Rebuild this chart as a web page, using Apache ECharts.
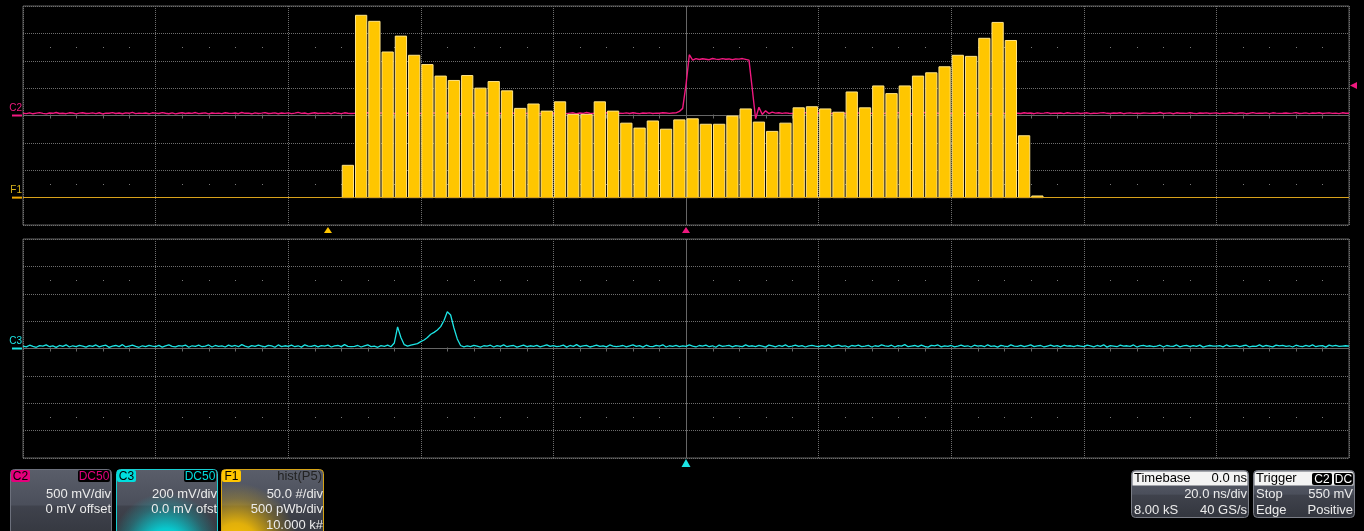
<!DOCTYPE html>
<html>
<head>
<meta charset="utf-8">
<title>C2 / C3 / F1</title>
<script src="https://cdn.jsdelivr.net/npm/echarts@6/dist/echarts.min.js"></script>
<style>
  html, body { margin: 0; padding: 0; background: #000; }
  #scope { width: 1364px; height: 531px; }
</style>
</head>
<body>
<div id="scope"></div>
<script>
// ---- acquisition settings ----
const TIME_NS_PER_DIV = 20;
const TIME_START_NS = -100;      // first sample of the stored traces
const TIME_STEP_NS = 0.5;        // spacing of the stored samples
const TRIGGER_TIME_NS = 0;
const TRIGGER_LEVEL_V = 0.55;
const C2_V_PER_DIV = 0.5;
const C3_V_PER_DIV = 0.2;
const F1_COUNT_PER_DIV = 50;
const F1_PWB_PER_DIV = 500;
const F1_ZERO_DIV = 2.3;         // horizontal position of 0 pWb, in divisions from the left edge
const F1_BASE_DIV = 3;           // histogram baseline, divisions below centre

// ---- C2 trace, mV, one value per 0.5 ns from -100 ns to +100 ns ----
const C2_MV = [
  42,35,48,31,44,52,38,29,46,40,55,36,41,33,49,45,30,43,51,37,
  39,47,34,50,28,44,41,53,36,45,32,48,40,57,35,43,38,46,31,49,
  44,36,52,40,33,47,29,42,50,37,45,39,54,34,41,48,30,46,38,43,
  35,51,42,38,46,33,55,40,44,31,49,37,43,52,36,41,47,32,45,39,
  48,34,43,56,39,45,30,41,50,36,44,38,47,33,53,40,35,49,42,37,
  41,46,32,44,51,37,43,29,48,39,45,54,36,42,34,50,40,46,31,44,
  38,49,43,35,47,41,52,33,45,40,36,48,30,44,55,39,42,37,50,34,
  45,33,50,41,38,46,35,53,42,30,47,43,39,51,36,44,32,48,41,46,
  37,52,40,46,34,43,49,31,45,38,54,41,36,47,42,33,50,39,44,35,
  43,39,47,36,51,42,34,45,40,48,37,44,41,50,46,39,45,48,75,130,
  560,1110,1010,1040,1022,1036,1028,1019,1041,1030,1024,1038,1027,1033,1018,1035,1029,1040,1026,1012,
  480,-60,150,20,85,35,62,44,50,38,47,41,36,49,43,39,52,34,45,40,
  46,37,43,51,33,48,40,44,36,53,41,39,47,32,45,50,38,42,46,35,
  40,48,35,44,52,37,41,46,31,49,43,38,54,40,36,47,42,33,45,50,
  39,44,48,34,42,51,37,45,40,36,49,43,30,47,41,53,38,44,35,46,
  42,36,50,41,45,33,48,39,44,52,37,43,40,46,34,51,42,38,47,36,
  44,49,35,42,38,47,53,40,36,45,41,50,33,44,48,39,42,37,46,43,
  38,45,41,54,36,43,47,32,49,40,44,38,51,42,35,46,40,48,37,44,
  47,34,43,39,50,42,36,45,48,33,41,52,38,44,40,47,35,49,43,39,
  41,46,38,44,53,37,42,48,35,45,40,50,36,43,47,39,44,34,49,42,
  40
];

// ---- C3 trace, mV, same time base ----
const C3_MV = [
  18,12,24,15,9,21,17,26,13,19,8,22,16,27,11,20,14,23,18,10,
  21,15,26,12,19,24,8,17,22,14,28,11,18,25,16,9,20,13,23,17,
  14,23,10,19,27,16,12,21,18,25,9,20,15,24,13,18,26,11,22,16,
  19,11,25,16,22,13,28,17,10,21,15,24,18,12,23,19,9,26,14,20,
  16,24,13,20,10,27,18,15,23,12,21,17,25,11,19,22,14,28,16,13,
  15,22,11,19,26,14,18,9,21,16,24,13,40,158,80,28,18,24,30,36,
  50,62,80,104,118,135,160,205,268,245,150,70,22,12,19,14,23,17,10,20,
  18,24,11,21,15,26,13,19,22,10,17,25,14,20,16,23,12,19,27,15,
  21,13,18,25,10,22,16,28,14,19,23,11,17,24,15,20,12,26,18,14,
  17,22,12,19,26,15,21,10,24,16,13,23,18,27,11,20,16,22,14,19,
  15,26,18,11,22,17,24,13,20,9,25,16,19,23,12,21,18,14,27,16,
  20,14,23,17,10,25,19,12,22,16,26,13,18,24,15,21,11,19,23,17,
  13,21,16,27,12,19,24,15,20,10,22,18,25,14,17,23,11,20,16,26,
  19,15,24,11,21,17,28,13,18,22,14,25,16,10,23,19,26,12,20,15,
  22,12,18,25,15,20,11,24,17,21,13,27,16,19,10,23,18,14,26,17,
  16,23,13,20,26,14,19,22,11,18,25,15,21,12,24,17,20,13,22,18,
  14,25,19,12,22,16,27,10,21,18,13,24,17,20,15,26,11,19,23,16,
  20,13,17,24,11,22,18,15,26,12,19,23,14,21,16,25,10,18,22,17,
  17,21,12,26,15,19,23,13,20,24,11,18,16,27,14,22,17,12,25,19,
  23,15,20,11,24,18,14,22,16,26,13,19,21,10,25,17,23,15,18,20,
  17
];

// ---- F1 = hist(P5): counts per 50 pWb bin, first bin starts at 50 pWb ----
const HIST_FIRST_PWB = 50;
const HIST_BIN_PWB = 50;
const HIST_COUNTS = [
  59,333,322,266,295,260,243,222,214,223,
  200,212,195,163,171,158,175,152,152,175,
  158,136,127,140,125,142,144,134,134,149,
  162,138,121,136,164,166,162,156,193,164,
  204,190,204,222,228,239,260,258,291,320,
  287,113,3
];

// ---- descriptor boxes ----
const C2_LINES = ['500 mV/div', '0 mV offset'];
const C3_LINES = ['200 mV/div', '0.0 mV ofst'];
const F1_LINES = ['50.0 #/div', '500 pWb/div', '10.000 k#'];
const TIMEBASE_ROWS = [['Timebase', '0.0 ns'], ['', '20.0 ns/div'], ['8.00 kS', '40 GS/s']];
const TRIGGER_ROWS = [['Trigger', ''], ['Stop', '550 mV'], ['Edge', 'Positive']];

// ---- colours ----
const PINK = '#F0187F', PINK_TAG = '#E4007C';
const CYAN = '#1CE4E4', CYAN_TAG = '#00DEDE';
const GOLD = '#FFC600', GOLD_LINE = '#D9A21B';
const GRID_GREY = '#666666';
const FONT = '"Liberation Sans", Arial, sans-serif';

// ---- derived axis ranges ----
const T_MIN = -5 * TIME_NS_PER_DIV, T_MAX = 5 * TIME_NS_PER_DIV;
const C2_MIN = -4 * C2_V_PER_DIV, C2_MAX = 4 * C2_V_PER_DIV;
const C3_MIN = -4 * C3_V_PER_DIV, C3_MAX = 4 * C3_V_PER_DIV;
const F1_Y_MIN = -(4 - F1_BASE_DIV) * F1_COUNT_PER_DIV;
const F1_Y_MAX = (4 + F1_BASE_DIV) * F1_COUNT_PER_DIV;
const F1_X_MIN = -F1_ZERO_DIV * F1_PWB_PER_DIV;
const F1_X_MAX = (10 - F1_ZERO_DIV) * F1_PWB_PER_DIV;

const toTrace = arr => arr.map((mv, i) => [TIME_START_NS + i * TIME_STEP_NS, mv / 1000]);
const histData = HIST_COUNTS.map((c, i) => [HIST_FIRST_PWB + i * HIST_BIN_PWB, HIST_FIRST_PWB + (i + 1) * HIST_BIN_PWB, c]);

const dotted = { show: true, lineStyle: { color: '#6e6e6e', type: [1, 1], width: 1 } };
function timeAxis(gridIndex) {
  return {
    type: 'value', gridIndex, min: T_MIN, max: T_MAX, interval: TIME_NS_PER_DIV,
    axisLine: { show: false }, axisTick: { show: false }, axisLabel: { show: false },
    splitLine: dotted
  };
}
function voltAxis(gridIndex, min, max, step) {
  return {
    type: 'value', gridIndex, min, max, interval: step,
    axisLine: { show: false }, axisTick: { show: false }, axisLabel: { show: false },
    splitLine: dotted
  };
}
const hiddenAxis = (gridIndex, min, max) => ({
  type: 'value', gridIndex, min, max, show: false, splitLine: { show: false }
});

// centre cross with minor ticks on the horizontal axis, plus the dot rows at +/-2.5 div
function graticule(xIdx, yIdx) {
  return {
    type: 'custom', xAxisIndex: xIdx, yAxisIndex: yIdx, silent: true, z: 1, clip: false,
    data: [[0, 0]],
    renderItem(params) {
      const cs = params.coordSys;
      const cx = Math.floor(cs.x + cs.width / 2) + 0.5;
      const cy = Math.floor(cs.y + cs.height / 2) + 0.5;
      const st = { stroke: GRID_GREY, lineWidth: 1 };
      const kids = [
        { type: 'line', shape: { x1: cs.x, y1: cy, x2: cs.x + cs.width, y2: cy }, style: st },
        { type: 'line', shape: { x1: cx, y1: cs.y, x2: cx, y2: cs.y + cs.height }, style: st }
      ];
      const rowUp = Math.round(cs.y + cs.height * 1.5 / 8);
      const rowDn = Math.round(cs.y + cs.height * 6.5 / 8);
      for (let i = 1; i < 50; i++) {
        if (i % 5 === 0) continue;
        const x = Math.round(cs.x + i * cs.width / 50) + 0.5;
        kids.push({ type: 'line', shape: { x1: x, y1: cy - 1, x2: x, y2: cy + 3 }, style: st });
        kids.push({ type: 'rect', shape: { x: x - 0.5, y: rowUp, width: 1, height: 1 }, style: { fill: '#7a7a7a' } });
        kids.push({ type: 'rect', shape: { x: x - 0.5, y: rowDn, width: 1, height: 1 }, style: { fill: '#7a7a7a' } });
      }
      return { type: 'group', children: kids };
    }
  };
}

// channel tag at the left edge (text + ground marker)
function channelTag(p, text, color, barColor) {
  return [
    { type: 'text', x: p[0] - 1, y: p[1] - 7,
      style: { text, fill: color, font: '10px ' + FONT, align: 'right', verticalAlign: 'middle' } },
    { type: 'rect', shape: { x: p[0] - 11, y: p[1] - 1, width: 10, height: 2 }, style: { fill: barColor } }
  ];
}
const upTriangle = (x, yTop, h, half, fill) => ({
  type: 'polygon', shape: { points: [[x, yTop], [x - half, yTop + h], [x + half, yTop + h]] }, style: { fill }
});

const c2Markers = {
  type: 'custom', xAxisIndex: 0, yAxisIndex: 0, silent: true, clip: false, z: 6,
  data: [[0, 0]],
  renderItem(params, api) {
    const zero = api.coord([T_MIN, 0]);
    const trig = api.coord([TRIGGER_TIME_NS, C2_MIN]);
    const lvl = api.coord([T_MAX, TRIGGER_LEVEL_V]);
    return { type: 'group', children: [
      ...channelTag(zero, 'C2', PINK, PINK),
      upTriangle(trig[0], trig[1] + 2, 6, 4, PINK),
      { type: 'polygon', shape: { points: [[lvl[0] + 1, lvl[1]], [lvl[0] + 8, lvl[1] - 3.5], [lvl[0] + 8, lvl[1] + 3.5]] }, style: { fill: PINK } }
    ] };
  }
};
const f1Markers = {
  type: 'custom', xAxisIndex: 2, yAxisIndex: 1, silent: true, clip: false, z: 6,
  data: [[0, 0]],
  renderItem(params, api) {
    const zero = api.coord([F1_X_MIN, 0]);
    const pos = api.coord([0, F1_Y_MIN]);
    return { type: 'group', children: [
      ...channelTag(zero, 'F1', '#D7B21C', '#F0A800'),
      upTriangle(pos[0], pos[1] + 2, 6, 4, GOLD)
    ] };
  }
};
const c3Markers = {
  type: 'custom', xAxisIndex: 1, yAxisIndex: 2, silent: true, clip: false, z: 6,
  data: [[0, 0]],
  renderItem(params, api) {
    const zero = api.coord([T_MIN, 0]);
    const trig = api.coord([TRIGGER_TIME_NS, C3_MIN]);
    return { type: 'group', children: [
      ...channelTag(zero, 'C3', CYAN, CYAN),
      upTriangle(trig[0], trig[1] + 1, 8, 4.5, CYAN)
    ] };
  }
};

const histSeries = {
  type: 'custom', name: 'F1', xAxisIndex: 2, yAxisIndex: 1, z: 4,
  data: histData,
  encode: { x: [0, 1], y: 2 },
  renderItem(params, api) {
    const a = api.coord([api.value(0), api.value(2)]);
    const b = api.coord([api.value(1), 0]);
    return {
      type: 'rect',
      shape: { x: a[0] + 1, y: a[1], width: b[0] - a[0] - 2, height: b[1] - a[1] },
      style: { fill: GOLD, stroke: '#FFE486', lineWidth: 1 }
    };
  },
  markLine: {
    silent: true, symbol: 'none', label: { show: false },
    lineStyle: { color: GOLD_LINE, width: 1, type: 'solid' },
    data: [{ yAxis: 0 }]
  }
};

// ---- descriptor boxes along the bottom ----
const boxFill = {
  type: 'linear', x: 0, y: 0, x2: 0, y2: 1,
  colorStops: [
    { offset: 0, color: '#5a5e6a' }, { offset: 0.5, color: '#4b4f5b' },
    { offset: 0.53, color: '#3f424c' }, { offset: 1, color: '#33363e' }
  ]
};
const txt = (x, y, text, align, fill, size, weight) => ({
  type: 'text', x, y, z: 20,
  style: { text, fill: fill || '#ececec', font: (weight || 'normal') + ' ' + (size || 13) + 'px ' + FONT, align: align || 'right', verticalAlign: 'middle' }
});
const tag = (x, y, w, text, bg, fg) => [
  { type: 'rect', z: 19, shape: { x, y, width: w, height: 12, r: 2 }, style: { fill: bg } },
  txt(x + w / 2, y + 6.5, text, 'center', fg, 12)
];
function glow(cx, cy, r, rgb) {
  return {
    type: 'radial', x: cx, y: cy, r, global: true,
    colorStops: [
      { offset: 0, color: 'rgba(' + rgb + ',1)' }, { offset: 0.35, color: 'rgba(' + rgb + ',0.85)' },
      { offset: 0.75, color: 'rgba(' + rgb + ',0.25)' }, { offset: 1, color: 'rgba(' + rgb + ',0)' }
    ]
  };
}
function channelBox(x, w, border, tagText, tagBg, modeText, modeBg, modeFg, lines, glowFill) {
  const els = [
    { type: 'rect', z: 10, shape: { x: x + 0.5, y: 469.5, width: w, height: 70, r: 4 }, style: { fill: boxFill, stroke: border, lineWidth: 1 } }
  ];
  if (glowFill) {
    els.push({ type: 'rect', z: 11, shape: { x: x + 1, y: 470, width: w - 1, height: 70, r: 4 }, style: { fill: glowFill } });
  }
  els.push(...tag(x + 1, 470, 19, tagText, tagBg, '#000'));
  if (modeBg) els.push(...tag(x + w - 33, 470, 32, modeText, modeBg, modeFg));
  else els.push(txt(x + w - 1, 476.5, modeText, 'right', modeFg, 13));
  lines.forEach((l, i) => els.push(txt(x + w, 494 + i * 15.5, l, 'right')));
  return els;
}
function infoBox(x, w, rows, badges) {
  const els = [
    { type: 'rect', z: 10, shape: { x: x + 0.5, y: 470.5, width: w, height: 47, r: 4 }, style: { fill: boxFill, stroke: '#7a7d86', lineWidth: 1 } },
    { type: 'rect', z: 11, shape: { x: x + 1.5, y: 471.5, width: w - 2, height: 14, r: [3, 3, 0, 0] }, style: { fill: '#f3f3f3' } }
  ];
  rows.forEach((r, i) => {
    const y = i === 0 ? 478.5 : 494 + (i - 1) * 16;
    const col = i === 0 ? '#000' : '#ececec';
    if (r[0]) els.push(txt(x + 3, y, r[0], 'left', col));
    if (r[1]) els.push(txt(x + w - 1, y, r[1], 'right', col));
  });
  (badges || []).forEach(b => els.push(...tag(b[0], 473, b[1], b[2], '#000', '#fff')));
  return els;
}

const graphics = [
  ...channelBox(10, 101, '#6c707c', 'C2', PINK_TAG, 'DC50', '#000', PINK_TAG, C2_LINES, null),
  ...channelBox(116, 101, '#19cfd2', 'C3', CYAN_TAG, 'DC50', '#000', CYAN_TAG, C3_LINES, glow(166, 548, 55, '0,225,230')),
  ...channelBox(221, 102, '#d6a416', 'F1', GOLD, 'hist(P5)', null, '#222222', F1_LINES, glow(236, 545, 62, '255,196,0')),
  ...infoBox(1131, 117, TIMEBASE_ROWS),
  ...infoBox(1253, 101, TRIGGER_ROWS, [[1312, 20, 'C2'], [1334, 19, 'DC']])
];

const chart = echarts.init(document.getElementById('scope'), null, { renderer: 'canvas' });
chart.setOption({
  backgroundColor: '#000',
  animation: false,
  grid: [
    { left: 23, top: 6, width: 1326, height: 219, show: true, borderColor: '#5e5e5e', borderWidth: 1, backgroundColor: 'transparent' },
    { left: 23, top: 239, width: 1326, height: 219, show: true, borderColor: '#5e5e5e', borderWidth: 1, backgroundColor: 'transparent' }
  ],
  xAxis: [timeAxis(0), timeAxis(1), hiddenAxis(0, F1_X_MIN, F1_X_MAX)],
  yAxis: [
    voltAxis(0, C2_MIN, C2_MAX, C2_V_PER_DIV),
    hiddenAxis(0, F1_Y_MIN, F1_Y_MAX),
    voltAxis(1, C3_MIN, C3_MAX, C3_V_PER_DIV)
  ],
  series: [
    graticule(0, 0),
    graticule(1, 2),
    {
      type: 'line', name: 'C2', xAxisIndex: 0, yAxisIndex: 0, z: 3,
      data: toTrace(C2_MV), symbol: 'none', showSymbol: false,
      lineStyle: { color: PINK, width: 1.4 }
    },
    histSeries,
    {
      type: 'line', name: 'C3', xAxisIndex: 1, yAxisIndex: 2, z: 3,
      data: toTrace(C3_MV), symbol: 'none', showSymbol: false,
      lineStyle: { color: CYAN, width: 1.3 }
    },
    c2Markers, f1Markers, c3Markers
  ],
  graphic: graphics
});
</script>
</body>
</html>
